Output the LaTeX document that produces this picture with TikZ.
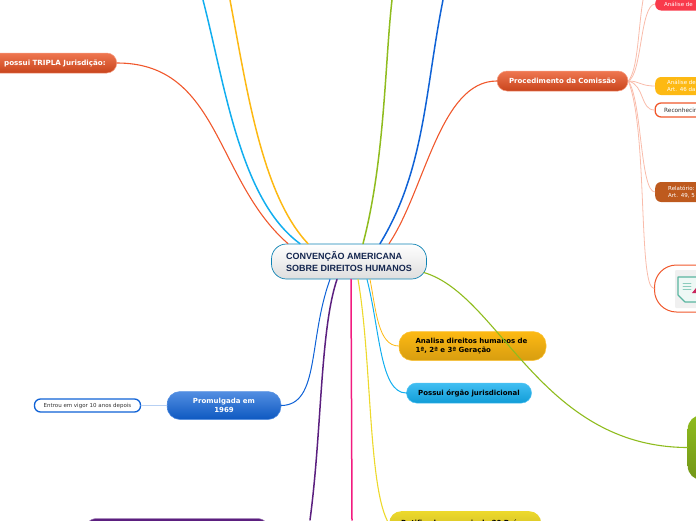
\documentclass[tikz,border=0pt]{standalone}
\usepackage{fontspec}
\setmainfont{DejaVu Sans}
\newfontfamily\hubfont{Liberation Sans}
\usepackage{xcolor}
\definecolor{mmred}{HTML}{F0582C}
\definecolor{mmredtop}{HTML}{EF7650}
\definecolor{mmredbot}{HTML}{C8441C}
\definecolor{mmcyan}{HTML}{12AEEF}
\definecolor{mmamber}{HTML}{FDB913}
\definecolor{mmlime}{HTML}{8FBC1E}
\definecolor{mmblue}{HTML}{0F62D6}
\definecolor{mmpurple}{HTML}{5B1F7F}
\definecolor{mmpink}{HTML}{F21B7F}
\definecolor{mmyellow}{HTML}{EDD92C}
\definecolor{mmnavy}{HTML}{14264F}
\definecolor{mmrose}{HTML}{F93A4B}
\definecolor{mmbrown}{HTML}{BE5A1E}
\definecolor{mmdoc}{HTML}{5AB5A0}
\usetikzlibrary{calc,positioning}
\tikzset{
  every picture/.style={line cap=round, line join=round},
  branch/.style={line width=1.5pt},
  leaf/.style={line width=0.8pt, mmred!40},
  topic/.style={rounded corners=#1, inner sep=0pt, font=\bfseries\fontsize{7}{9.2}\selectfont},
  topic/.default=11pt,
  chip/.style={rounded corners=6pt, font=\fontsize{5.5}{7.6}\selectfont, text=white, anchor=west,
    inner ysep=0pt, text width=60pt, align=left},
  outlined/.style={draw=#1, line width=1.3pt, fill=white, rounded corners=6pt, font=\fontsize{5.5}{8}\selectfont,
    text=black!80, inner sep=0pt},
}
\begin{document}
\begin{tikzpicture}[x=1pt, y=-1pt]
\useasboundingbox (0,0) rectangle (696,520);
\clip (0,0) rectangle (696,520);
% the centre
\node[minimum width=155pt, minimum height=35pt, rounded corners=15pt, draw=mmcyan!75!black, line width=0.7pt, top color=white, bottom color=black!13,
  inner sep=0pt, align=left, text=mmnavy, font=\hubfont\bfseries\fontsize{9}{11.4}\selectfont] (hub) at (349,261.5)
  {CONVENÇÃO AMERICANA\\SOBRE DIREITOS HUMANOS};
% the topics
\node[topic=10pt, anchor=east, minimum height=20pt, inner xsep=11pt, text width=126pt, align=right, text=white,
  font=\bfseries\fontsize{7.15}{9.2}\selectfont,
  draw=mmred!60, line width=0.5pt, top color=mmredtop, bottom color=mmredbot] (triple) at (117,63) {possui TRIPLA Jurisdição:};
\node[topic=10pt, minimum width=131pt, minimum height=20pt, text=white, draw=mmred!60, line width=0.5pt,
  top color=mmredtop, bottom color=mmredbot] (proc) at (562.5,81) {Procedimento da Comissão};
\node[topic=13pt, inner xsep=16.5pt, text width=114pt, align=left, minimum height=29pt, draw=mmamber!85, line width=0.5pt,
  top color=mmamber, bottom color=mmamber!85!black] (geracao) at (472.5,346) {Analisa direitos humanos de\\1ª, 2ª e 3ª Geração};
\node[topic=10pt, minimum width=125pt, minimum height=20pt, draw=mmcyan!75, line width=0.5pt,
  top color=mmcyan!80, bottom color=mmcyan!90!black] (orgao) at (469,393) {Possui órgão jurisdicional};
\node[topic=13pt, minimum width=114pt, minimum height=28pt, align=center, text=white, draw=mmblue!70, line width=0.5pt,
  top color=mmblue!72, bottom color=mmblue!90!black] (prom) at (224,405.5) {Promulgada em\\1969};
\node[outlined=mmblue, minimum width=106pt, minimum height=13pt] (vigor) at (87.5,405.5) {Entrou em vigor 10 anos depois};
\node[topic=12pt, anchor=north west, inner xsep=12pt, inner ysep=9pt, text width=128pt, align=left,
  top color=mmyellow, bottom color=mmyellow!85!black] (ratif) at (389,511) {Ratificada por mais de 20 Países};
\node[topic=14pt, minimum width=188pt, minimum height=30pt, fill=mmpurple, draw=mmpurple!60, line width=0.5pt] (direct) at (177,533.5) {};
\node[topic=14pt, minimum width=40pt, minimum height=65pt, anchor=west, top color=mmlime, bottom color=mmlime!80!black] (green) at (687.5,447.5) {};
% the leaves
\node[chip, inner xsep=9pt, minimum height=13pt, fill=mmrose] (rose) at (655,4) {Análise de};
\node[chip, inner xsep=12pt, minimum height=18pt, fill=mmamber] (art46) at (655,86) {Análise de\\Art. 46 da};
\node[outlined=mmred, anchor=west, inner xsep=9pt, minimum height=14pt, text width=60pt, align=left,
  font=\fontsize{5.8}{8}\selectfont] (recon) at (654.5,110) {Reconhecim};
\node[chip, inner xsep=13pt, minimum height=20pt, fill=mmbrown] (art49) at (655,192) {Relatório:\\Art. 49, 5};
\node[draw=mmred, line width=1pt, fill=white, rounded corners=22pt, anchor=west, minimum width=80pt, minimum height=47pt, inner sep=0pt] (card) at (654,288.5) {};
\fill[black!6, rounded corners=1pt] (675,270) rectangle (705,308);
\draw[mmdoc, line width=1.2pt, fill=mmdoc!10] (678,277) -- (700,277) -- (700,302) -- (685,302) -- (678,295) -- cycle;
\draw[mmdoc!70, line width=0.7pt] (683,283) -- (691,283) (683,286) -- (691,286) (683,289) -- (691,289);
\fill[purple!85] (692,293) -- (696,288) -- (697,293) -- cycle;
% the ends that leave the page
\coordinate (offcyan) at (203,0);
\coordinate (offamber) at (230,0);
\coordinate (offlime) at (392,0);
\coordinate (offblue) at (443,0);
\coordinate (offpink) at (352,520);
\coordinate (offpurple) at (310,520);
\coordinate (offleaf) at (643,0);
% the connectors from the centre
\draw[branch, mmred, line width=1.1pt] ([xshift=-61pt]hub.north) .. controls (215,180) and (220,63) .. (triple.east);
\draw[branch, mmcyan] ([xshift=-49pt]hub.north) .. controls (240,200) and (225,85) .. (offcyan);
\draw[branch, mmamber] ([xshift=-41pt]hub.north) .. controls (262,195) and (247,90) .. (offamber);
\draw[branch, mmlime] ([xshift=14pt]hub.north) .. controls (385,160) and (385,60) .. (offlime);
\draw[branch, mmblue] ([xshift=31pt]hub.north) .. controls (425,170) and (425,90) .. (offblue);
\draw[branch, mmred, line width=1.1pt] ([xshift=40pt]hub.north) .. controls (425,190) and (440,81) .. (proc.west);
\draw[branch, mmlime, line width=1.1pt] ([xshift=-3pt,yshift=-11pt]hub.east) .. controls (500,295) and (540,447) .. (green.west);
\draw[branch, mmamber, line width=0.8pt] ([xshift=21pt]hub.south) .. controls (376,310) and (378,346) .. (geracao.west);
\draw[branch, mmcyan, line width=1pt] ([xshift=18pt]hub.south) .. controls (380,330) and (380,393) .. (orgao.west);
\draw[branch, mmyellow, line width=1.1pt] ([xshift=9pt]hub.south) .. controls (372,360) and (368,490) .. (ratif.west);
\draw[branch, mmpink] ([xshift=2pt]hub.south) -- (offpink);
\draw[branch, mmpurple] ([xshift=-12pt]hub.south) .. controls (320,330) and (322,430) .. (offpurple);
\draw[branch, mmblue, line width=1pt] ([xshift=-19pt]hub.south) .. controls (308,340) and (320,405) .. (prom.east);
\draw[mmblue!30, line width=1.4pt] (prom.west) -- (vigor.east);
% the leaves of the procedure
\draw[leaf] (proc.east) .. controls (638,70) and (638,30) .. (offleaf);
\draw[leaf] (proc.east) .. controls (642,75) and (640,5) .. (rose.west);
\draw[leaf] (proc.east) .. controls (640,81) and (640,86) .. (art46.west);
\draw[leaf] (proc.east) .. controls (645,85) and (640,110) .. (recon.west);
\draw[leaf] (proc.east) .. controls (642,100) and (640,192) .. (art49.west);
\draw[leaf] (proc.east) .. controls (648,130) and (638,288) .. (card.west);
\end{tikzpicture}
\end{document}
